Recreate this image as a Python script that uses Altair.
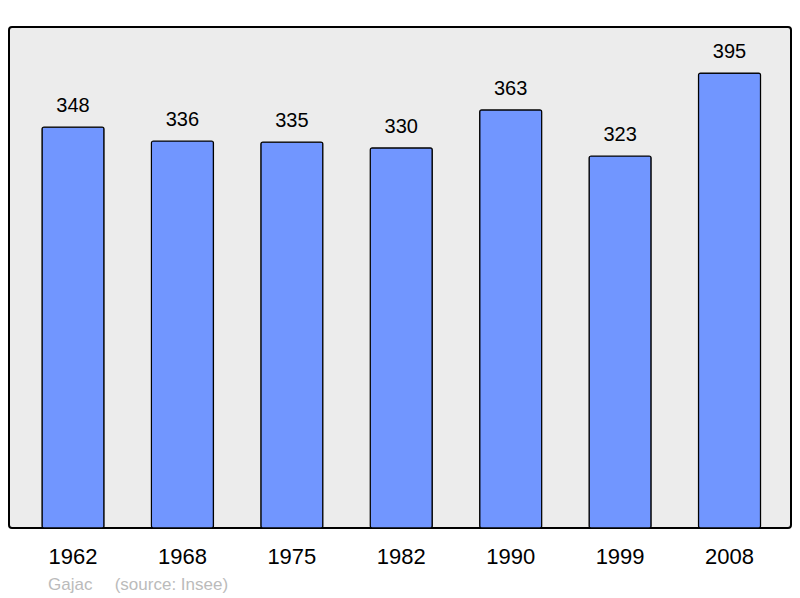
import altair as alt
import pandas as pd

years = ["1962", "1968", "1975", "1982", "1990", "1999", "2008"]
population = [348, 336, 335, 330, 363, 323, 395]
footer = "Gajac\u00a0\u00a0\u00a0\u00a0\u2009(source: Insee)"

df = pd.DataFrame({"year": years, "pop": population})

x = alt.X("year:N", sort=years, title=None,
          scale=alt.Scale(paddingInner=0.433, paddingOuter=0.29, align=0.52),
          axis=alt.Axis(labelAngle=0, labelFontSize=22, labelFont="Liberation Sans",
                        labelColor="#000000", ticks=False, domain=False,
                        labelPadding=18, labelBaseline="top"))
y = alt.Y("pop:Q", scale=alt.Scale(domain=[0, 435], nice=False), axis=None)

bars = alt.Chart(df).mark_bar(color="#7196ff", stroke="#000000", strokeWidth=1.2,
                              cornerRadius=2).encode(x=x, y=y)
labels = alt.Chart(df).mark_text(font="Liberation Sans", fontSize=20, color="#000000",
                                 baseline="alphabetic", dy=-15).encode(
    x=alt.X("year:N", sort=years), y="pop:Q", text="pop:Q")

chart = alt.layer(bars, labels).properties(
    width=782, height=501,
    padding={"left": 1, "top": 19, "right": 1, "bottom": 70},
    autosize=alt.AutoSizeParams(type="none"),
    title=alt.TitleParams(footer, orient="bottom", anchor="start", dx=39, offset=10,
                          font="Liberation Sans", fontSize=17, fontWeight="normal",
                          color="#bbbbbb"),
).configure_view(fill="#ececec", stroke="#000000", strokeWidth=2, cornerRadius=3)

chart.save("out.html", embed_options={"renderer": "svg", "actions": False})
